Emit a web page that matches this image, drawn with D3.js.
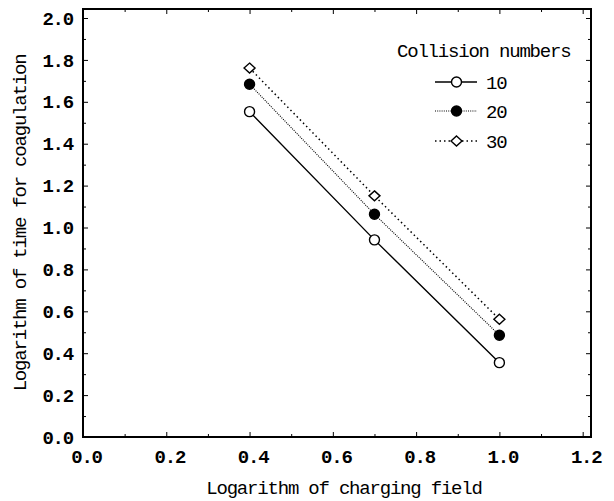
<!DOCTYPE html>
<meta charset="utf-8">
<head>
<style>
body { margin: 0; background: #fff; }
svg text { font-family: "Liberation Mono", "DejaVu Sans Mono", monospace; font-size: 19px; letter-spacing: -1.2px; fill: #000; }
.axis text { font-weight: bold; }
.frame { fill: none; stroke: #000; stroke-width: 2px; }
.tick line { stroke: #000; stroke-width: 1px; }
.axis path { display: none; }
.line { fill: none; stroke: #000; }
</style>
</head>
<body>
<svg width="614" height="501"></svg>
<script src="https://cdn.jsdelivr.net/npm/d3@7"></script>
<script>
// data
var fieldLog = [0.4, 0.7, 1.0];
var series = ["10", "20", "30"];
var time10 = [1.553, 0.941, 0.355];
var time20 = [1.684, 1.063, 0.486];
var time30 = [1.761, 1.151, 0.562];
var xTicks = [0.0, 0.2, 0.4, 0.6, 0.8, 1.0, 1.2];
var yTicks = [0.0, 0.2, 0.4, 0.6, 0.8, 1.0, 1.2, 1.4, 1.6, 1.8, 2.0];

var svg = d3.select("svg"),
    margin = {top: 9, right: 23, bottom: 64, left: 83},
    width = +svg.attr("width") - margin.left - margin.right,
    height = +svg.attr("height") - margin.top - margin.bottom,
    g = svg.append("g").attr("transform", "translate(" + margin.left + "," + margin.top + ")");

var x = d3.scaleLinear().domain([0, 1.22]).range([0, width]);
var y = d3.scaleLinear().domain([0, 2.043]).range([height, 0]);

var minorX = d3.range(0, 1.21, 0.1).filter(function(v) { return Math.round(v * 10) % 2; });
var minorY = d3.range(0, 2.01, 0.1).filter(function(v) { return Math.round(v * 10) % 2; });
var fmt = d3.format(".1f");

// inward ticks on all four sides
g.append("g").attr("class", "axis").attr("transform", "translate(0," + height + ")")
    .call(d3.axisBottom(x).tickValues(xTicks).tickSize(-5).tickPadding(13).tickFormat(fmt))
  .selectAll("text").attr("dx", 3);
g.append("g").attr("class", "axis").attr("transform", "translate(0," + height + ")")
    .call(d3.axisBottom(x).tickValues(minorX).tickSize(-3).tickFormat(""));
g.append("g").attr("class", "axis")
    .call(d3.axisTop(x).tickValues(xTicks).tickSize(-5).tickFormat(""));
g.append("g").attr("class", "axis")
    .call(d3.axisTop(x).tickValues(minorX).tickSize(-3).tickFormat(""));

g.append("g").attr("class", "axis")
    .call(d3.axisLeft(y).tickValues(yTicks).tickSize(-5).tickPadding(10).tickFormat(fmt));
g.append("g").attr("class", "axis")
    .call(d3.axisLeft(y).tickValues(minorY).tickSize(-3).tickFormat(""));
g.append("g").attr("class", "axis").attr("transform", "translate(" + width + ",0)")
    .call(d3.axisRight(y).tickValues(yTicks).tickSize(-5).tickFormat(""));
g.append("g").attr("class", "axis").attr("transform", "translate(" + width + ",0)")
    .call(d3.axisRight(y).tickValues(minorY).tickSize(-3).tickFormat(""));

g.append("rect").attr("class", "frame").attr("width", width).attr("height", height);

// series
var styles = [
  {vals: time10, dash: null, sw: 1.4, marker: "circleOpen"},
  {vals: time20, dash: "1,1.2", sw: 1.1, marker: "circleFilled"},
  {vals: time30, dash: "1.5,3", sw: 1.5, marker: "diamond"}
];

var line = d3.line()
    .x(function(d, i) { return x(fieldLog[i]); })
    .y(function(d) { return y(d); });

function drawMarker(sel, type, cx, cy) {
  if (type === "diamond") {
    sel.append("path")
        .attr("d", "M" + cx + "," + (cy - 5) + "L" + (cx + 5.5) + "," + cy + "L" + cx + "," + (cy + 5) + "L" + (cx - 5.5) + "," + cy + "Z")
        .attr("fill", "#fff").attr("stroke", "#000").attr("stroke-width", 1.4);
  } else {
    sel.append("circle").attr("cx", cx).attr("cy", cy).attr("r", 5)
        .attr("fill", type === "circleFilled" ? "#000" : "#fff")
        .attr("stroke", "#000").attr("stroke-width", 1.4);
  }
}

styles.forEach(function(s) {
  g.append("path").datum(s.vals).attr("class", "line")
      .attr("d", line)
      .attr("stroke-width", s.sw)
      .attr("stroke-dasharray", s.dash);
});
styles.forEach(function(s) {
  s.vals.forEach(function(v, i) { drawMarker(g, s.marker, x(fieldLog[i]), y(v)); });
});

// legend
var lg = svg.append("g");
lg.append("text").attr("x", 397).attr("y", 57).text("Collision numbers");
var legendY = [82, 111, 141];
styles.forEach(function(s, i) {
  lg.append("line").attr("x1", 435).attr("x2", 477).attr("y1", legendY[i]).attr("y2", legendY[i])
      .attr("stroke", "#000").attr("stroke-width", s.sw).attr("stroke-dasharray", s.dash);
  drawMarker(lg, s.marker, 456.5, legendY[i]);
  lg.append("text").attr("x", 486).attr("y", legendY[i] + 7).text(series[i]);
});

// axis titles
svg.append("text").attr("x", 344).attr("y", 494).attr("text-anchor", "middle")
    .text("Logarithm of charging field");
svg.append("text").attr("transform", "translate(26,223) rotate(-90)").attr("text-anchor", "middle")
    .text("Logarithm of time for coagulation");
</script>
</body>
</html>
